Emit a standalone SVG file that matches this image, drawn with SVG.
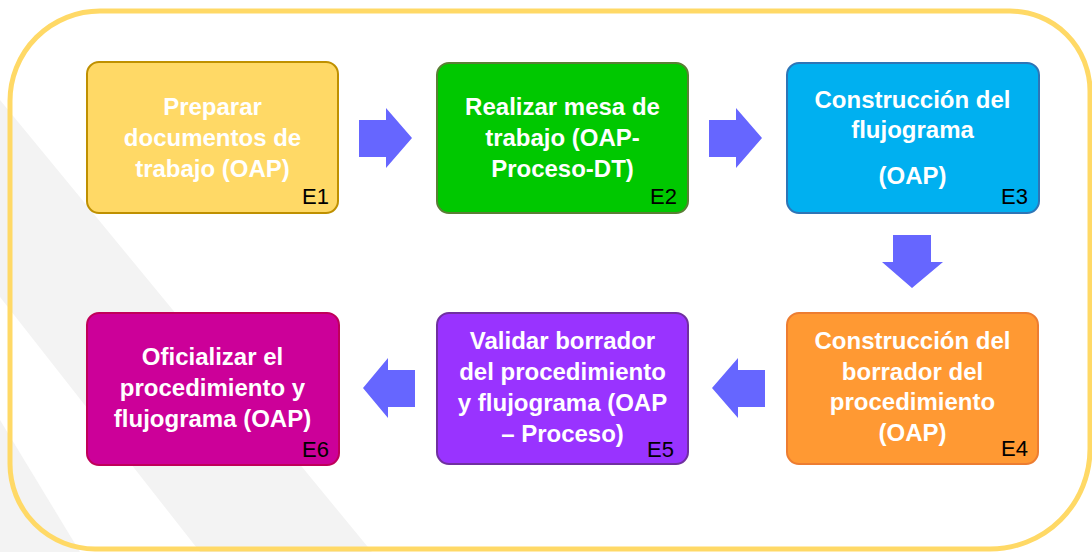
<svg xmlns="http://www.w3.org/2000/svg" width="1092" height="552" viewBox="0 0 1092 552">
<style>
.t{font-family:"Liberation Sans",Arial,sans-serif;font-weight:bold;font-size:24px;fill:#FFFFFF;text-anchor:middle}
.e{font-family:"Liberation Sans",Arial,sans-serif;font-size:22px;fill:#000000;text-anchor:end}
.box{stroke-width:2}
.arr{fill:#6666FF}
</style>
<rect x="0" y="0" width="1092" height="552" fill="#FFFFFF"/>
<polygon points="0,100 372,552 200,552 0,297" fill="#F3F3F3"/>
<polygon points="0,420 80,552 0,552" fill="#F3F3F3"/>
<path d="M100,11 H1010 A80,80 0 0 1 1090,91 V449 A100,100 0 0 1 990,549 H95 A85,85 0 0 1 10,464 V101 A90,90 0 0 1 100,11 Z" fill="none" stroke="#FFD966" stroke-width="5"/>
<g id="connectors">
<polygon class="arr" points="359,120 386,120 386,108 412,138 386,168 386,157 359,157"/>
<polygon class="arr" points="709,120 736,120 736,108 762,138 736,168 736,157 709,157"/>
<polygon class="arr" points="893,235 931,235 931,262 943,262 912,288 882,262 893,262"/>
<polygon class="arr" points="765,370 738,370 738,358 712,388 738,418 738,407 765,407"/>
<polygon class="arr" points="415,370 388,370 388,358 363,388 388,418 388,407 415,407"/>
</g>
<g id="E1">
<rect class="box" x="87" y="62" width="251" height="151" rx="12" fill="#FFD966" stroke="#BF9000"/>
<text class="t" x="212.5" y="115">Preparar</text>
<text class="t" x="212.5" y="146">documentos de</text>
<text class="t" x="212.5" y="177">trabajo (OAP)</text>
<text class="e" x="329" y="204">E1</text>
</g>
<g id="E2">
<rect class="box" x="437" y="63" width="251" height="150" rx="12" fill="#00C800" stroke="#5A7F35"/>
<text class="t" x="562.5" y="115">Realizar mesa de</text>
<text class="t" x="562.5" y="146">trabajo (OAP-</text>
<text class="t" x="562.5" y="177">Proceso-DT)</text>
<text class="e" x="677" y="204">E2</text>
</g>
<g id="E3">
<rect class="box" x="787" y="63" width="252" height="150" rx="12" fill="#00B0F0" stroke="#2E75B6"/>
<text class="t" x="912.5" y="108">Construcción del</text>
<text class="t" x="912.5" y="138">flujograma</text>
<text class="t" x="912.5" y="184">(OAP)</text>
<text class="e" x="1028" y="204">E3</text>
</g>
<g id="E4">
<rect class="box" x="787" y="313" width="251" height="151" rx="12" fill="#FF9933" stroke="#ED7D31"/>
<text class="t" x="912.5" y="349">Construcción del</text>
<text class="t" x="912.5" y="380">borrador del</text>
<text class="t" x="912.5" y="410">procedimiento</text>
<text class="t" x="912.5" y="441">(OAP)</text>
<text class="e" x="1028" y="456">E4</text>
</g>
<g id="E5">
<rect class="box" x="437" y="313" width="251" height="151" rx="12" fill="#9933FF" stroke="#7030A0"/>
<text class="t" x="562.5" y="349">Validar borrador</text>
<text class="t" x="562.5" y="380">del procedimiento</text>
<text class="t" x="562.5" y="411">y flujograma (OAP</text>
<text class="t" x="562.5" y="442">– Proceso)</text>
<text class="e" x="674" y="457">E5</text>
</g>
<g id="E6">
<rect class="box" x="87" y="313" width="252" height="152" rx="12" fill="#CC0099" stroke="#C0005A"/>
<text class="t" x="212.5" y="365">Oficializar el</text>
<text class="t" x="212.5" y="396">procedimiento y</text>
<text class="t" x="212.5" y="427">flujograma (OAP)</text>
<text class="e" x="329" y="457">E6</text>
</g>
</svg>
